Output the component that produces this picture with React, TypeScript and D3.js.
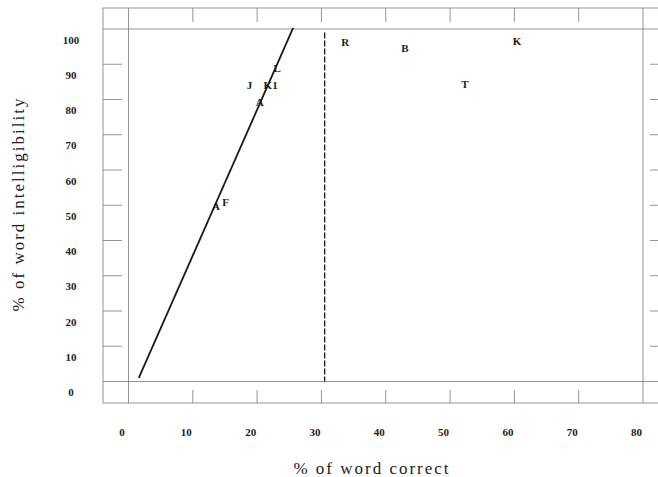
import React from 'react';
import * as d3 from 'd3';

// values
const xTicks = [0, 10, 20, 30, 40, 50, 60, 70, 80];
const yTicks = [0, 10, 20, 30, 40, 50, 60, 70, 80, 90, 100];

const pointLabels = ['R', 'B', 'K', 'T', 'L', 'J', 'K1', 'A', 'F', 'A'];
const pointX = [33.7, 43.0, 60.4, 52.3, 23.1, 18.8, 22.1, 20.4, 15.1, 13.6];
const pointY = [96.3, 94.6, 96.4, 84.4, 88.8, 84.1, 84.1, 79.1, 50.8, 49.6];

const fitX = [1.6, 25.6];
const fitY = [1, 100.3];

const cutoffX = 30.5;

const W = 658;
const H = 477;
const frame = { left: 103, top: 8, right: 669, bottom: 403 };

export default function App() {
  const x = d3.scaleLinear().domain([0, 80]).range([128.5, 643]);
  const y = d3.scaleLinear().domain([0, 100]).range([381.5, 29]);

  const fitLine = d3
    .line<number>()
    .x((d) => x(d))
    .y((_, i) => y(fitY[i]))(fitX) as string;

  const frameColor = '#7a7a7a';
  const font = '"Liberation Serif", "DejaVu Serif", serif';

  return (
    <svg
      width={W}
      height={H}
      style={{ position: 'fixed', left: 0, top: 0, background: '#fff' }}
      fontFamily={font}
    >
      {/* outer frame */}
      <rect
        x={frame.left}
        y={frame.top}
        width={frame.right - frame.left}
        height={frame.bottom - frame.top}
        fill="none"
        stroke={frameColor}
        strokeWidth={0.8}
      />

      {/* inner box, its edges run across the whole frame */}
      {[0, 80].map((t) => (
        <line key={'vx' + t} x1={x(t)} x2={x(t)} y1={frame.top} y2={frame.bottom} stroke={frameColor} strokeWidth={0.8} />
      ))}
      {[0, 100].map((t) => (
        <line key={'hy' + t} x1={frame.left} x2={frame.right} y1={y(t)} y2={y(t)} stroke={frameColor} strokeWidth={0.8} />
      ))}

      {/* x ticks top & bottom */}
      {xTicks.slice(1, -1).map((t) => (
        <g key={'xt' + t} stroke={frameColor} strokeWidth={0.8}>
          <line x1={x(t)} x2={x(t)} y1={frame.top} y2={frame.top + 14} />
          <line x1={x(t)} x2={x(t)} y1={frame.bottom} y2={frame.bottom - 13} />
        </g>
      ))}

      {/* y ticks left & right */}
      {yTicks.slice(1, -1).map((t) => (
        <g key={'yt' + t} stroke={frameColor} strokeWidth={0.8}>
          <line x1={frame.left} x2={frame.left + 19} y1={y(t)} y2={y(t)} />
          <line x1={frame.right} x2={frame.right - 19} y1={y(t)} y2={y(t)} />
        </g>
      ))}

      {/* tick labels */}
      {xTicks.map((t) => (
        <text key={'xl' + t} x={x(t) - 6.5} y={436} textAnchor="middle" fontSize={11} fontWeight="bold" fill="#222">
          {t}
        </text>
      ))}
      {yTicks.map((t) => (
        <text key={'yl' + t} x={71} y={y(t) + 14.5} textAnchor="middle" fontSize={11} fontWeight="bold" fill="#222">
          {t}
        </text>
      ))}

      {/* cut-off */}
      <line
        x1={x(cutoffX)}
        x2={x(cutoffX)}
        y1={y(99)}
        y2={y(0)}
        stroke="#1a1a1a"
        strokeWidth={1.3}
        strokeDasharray="6,2"
      />

      {/* fitted line */}
      <path d={fitLine} fill="none" stroke="#1a1a1a" strokeWidth={1.8} />

      {/* speakers */}
      {pointLabels.map((lab, i) => (
        <text
          key={'p' + i}
          x={x(pointX[i])}
          y={y(pointY[i]) + 3.8}
          textAnchor="middle"
          fontSize={11}
          fontWeight="bold"
          fill="#1a1a1a"
        >
          {lab}
        </text>
      ))}

      {/* axis titles */}
      <text x={372} y={474} textAnchor="middle" fontSize={17} letterSpacing={2} fill="#222">
        % of word correct
      </text>
      <text
        transform={`translate(24,204) rotate(-90)`}
        textAnchor="middle"
        fontSize={17}
        letterSpacing={2}
        fill="#222"
      >
        % of word intelligibility
      </text>
    </svg>
  );
}
